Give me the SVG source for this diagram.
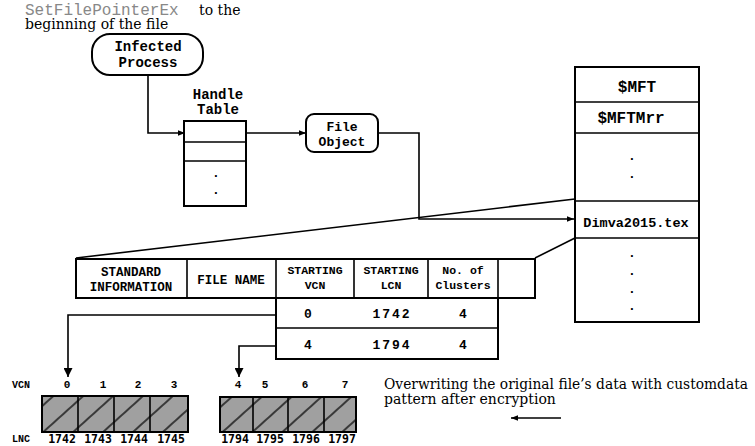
<svg xmlns="http://www.w3.org/2000/svg" width="755" height="446" viewBox="0 0 755 446">
<style>
.m{font-family:"Liberation Mono","Courier New",monospace;font-weight:bold;fill:#000;text-anchor:middle}
.s{font-family:"DejaVu Serif","Liberation Serif",serif;fill:#000}
.b{fill:#fff;stroke:#000;stroke-width:2}
.l{fill:none;stroke:#000;stroke-width:1.6}
.c{fill:url(#hatch);stroke:#000;stroke-width:2}
.n{font-family:"DejaVu Sans Mono",monospace;font-size:11.5px;font-weight:bold;fill:#000;text-anchor:middle}
</style>
<defs>
<marker id="ah" viewBox="0 0 10 10" refX="10" refY="5" markerWidth="7" markerHeight="7" markerUnits="userSpaceOnUse" orient="auto">
<path d="M0,1 L10,5 L0,9 Z" fill="#000"/>
</marker>
<marker id="ahb" viewBox="0 0 10 10" refX="10" refY="5" markerWidth="10" markerHeight="9" markerUnits="userSpaceOnUse" orient="auto">
<path d="M0,0 L10,5 L0,10 Z" fill="#000"/>
</marker>
<pattern id="hatch" patternUnits="userSpaceOnUse" width="12" height="20" patternTransform="rotate(-42)">
<rect width="12" height="20" fill="#a0a0a0"/>
<line x1="0" y1="10" x2="12" y2="10" stroke="#000" stroke-width="1.3"/>
</pattern>
</defs>

<g id="caption-top">
<text x="25" y="15" font-family="Liberation Mono,monospace" font-size="16" fill="#888">SetFilePointerEx</text>
<text x="199" y="15" class="s" font-size="14">to the</text>
<text x="25" y="29" class="s" font-size="14">beginning of the file</text>
</g>

<g id="infected-process">
<rect x="92" y="34" width="111" height="41" rx="18" class="b"/>
<text x="148" y="51" class="m" font-size="14">Infected</text>
<text x="148" y="67" class="m" font-size="14">Process</text>
</g>

<g id="handle-table">
<text x="218" y="99" class="m" font-size="14">Handle</text>
<text x="218" y="114" class="m" font-size="14">Table</text>
<rect x="184" y="121" width="62" height="85" class="b"/>
<line x1="184" y1="142" x2="246" y2="142" class="l" stroke-width="2"/>
<line x1="184" y1="161" x2="246" y2="161" class="l" stroke-width="2"/>
<text x="216" y="177" class="m" font-size="13">.</text>
<text x="216" y="194" class="m" font-size="13">.</text>
</g>

<g id="file-object">
<rect x="306" y="114" width="72" height="38" rx="8" class="b"/>
<text x="342" y="131" class="m" font-size="13">File</text>
<text x="342" y="146" class="m" font-size="13">Object</text>
</g>

<g id="mft">
<rect x="575" y="67" width="124" height="255" class="b"/>
<line x1="575" y1="102" x2="699" y2="102" class="l" stroke-width="2"/>
<line x1="575" y1="133" x2="699" y2="133" class="l" stroke-width="2"/>
<line x1="575" y1="201" x2="699" y2="201" class="l" stroke-width="2"/>
<line x1="575" y1="238" x2="699" y2="238" class="l" stroke-width="2"/>
<text x="637" y="92" class="m" font-size="16">$MFT</text>
<text x="631" y="123" class="m" font-size="16">$MFTMrr</text>
<text x="632" y="160" class="m" font-size="13">.</text>
<text x="632" y="178" class="m" font-size="13">.</text>
<text x="636" y="227" class="m" font-size="13.5">Dimva2015.tex</text>
<text x="632" y="257" class="m" font-size="13">.</text>
<text x="632" y="275" class="m" font-size="13">.</text>
<text x="632" y="293" class="m" font-size="13">.</text>
<text x="632" y="310" class="m" font-size="13">.</text>
</g>

<g id="attribute-table">
<rect x="76" y="259" width="459" height="39" class="b"/>
<line x1="187" y1="259" x2="187" y2="298" class="l" stroke-width="2"/>
<line x1="276" y1="259" x2="276" y2="298" class="l" stroke-width="2"/>
<line x1="354" y1="259" x2="354" y2="298" class="l" stroke-width="2"/>
<line x1="428" y1="259" x2="428" y2="298" class="l" stroke-width="2"/>
<line x1="498" y1="259" x2="498" y2="298" class="l" stroke-width="2"/>
<text x="131" y="276" class="m" font-size="12.5">STANDARD</text>
<text x="131" y="291" class="m" font-size="12.5">INFORMATION</text>
<text x="231" y="284" class="m" font-size="12.5">FILE NAME</text>
<text x="315" y="274" class="m" font-size="11.5">STARTING</text>
<text x="315" y="289" class="m" font-size="11.5">VCN</text>
<text x="391" y="274" class="m" font-size="11.5">STARTING</text>
<text x="391" y="289" class="m" font-size="11.5">LCN</text>
<text x="463" y="274" class="m" font-size="11.5" font-weight="normal">No. of</text>
<text x="463" y="289" class="m" font-size="11.5" font-weight="normal">Clusters</text>
</g>

<g id="runs-table">
<rect x="276" y="298" width="222" height="61" class="b"/>
<line x1="276" y1="328" x2="498" y2="328" class="l" stroke-width="2"/>
<text x="308" y="318" class="m" font-size="13">0</text>
<text x="392" y="318" class="m" font-size="13" letter-spacing="2">1742</text>
<text x="463" y="318" class="m" font-size="13">4</text>
<text x="308" y="349" class="m" font-size="13">4</text>
<text x="392" y="349" class="m" font-size="13" letter-spacing="2">1794</text>
<text x="463" y="349" class="m" font-size="13">4</text>
</g>

<g id="clusters-1">
<rect x="42" y="396" width="146" height="36" class="c"/>
<line x1="78" y1="396" x2="78" y2="432" class="l" stroke-width="2"/>
<line x1="114" y1="396" x2="114" y2="432" class="l" stroke-width="2"/>
<line x1="150" y1="396" x2="150" y2="432" class="l" stroke-width="2"/>
</g>
<g id="clusters-2">
<rect x="220" y="397" width="136" height="35" class="c"/>
<line x1="253" y1="397" x2="253" y2="432" class="l" stroke-width="2"/>
<line x1="288" y1="397" x2="288" y2="432" class="l" stroke-width="2"/>
<line x1="324" y1="397" x2="324" y2="432" class="l" stroke-width="2"/>
</g>

<g id="cluster-labels">
<text x="21" y="388" class="m" font-size="10">VCN</text>
<text x="67" y="388" class="m" font-size="11">0</text>
<text x="103" y="388" class="m" font-size="11">1</text>
<text x="138" y="388" class="m" font-size="11">2</text>
<text x="174" y="388" class="m" font-size="11">3</text>
<text x="238" y="388" class="m" font-size="11">4</text>
<text x="265" y="388" class="m" font-size="11">5</text>
<text x="305" y="388" class="m" font-size="11">6</text>
<text x="345" y="388" class="m" font-size="11">7</text>
<text x="21" y="442" class="m" font-size="10">LNC</text>
<text x="62" y="443" class="n">1742</text>
<text x="98" y="443" class="n">1743</text>
<text x="134" y="443" class="n">1744</text>
<text x="171" y="443" class="n">1745</text>
<text x="235" y="443" class="n">1794</text>
<text x="270" y="443" class="n">1795</text>
<text x="306" y="443" class="n">1796</text>
<text x="342" y="443" class="n">1797</text>
</g>

<g id="note">
<text x="384" y="389" class="s" font-size="14" textLength="364" lengthAdjust="spacingAndGlyphs">Overwriting the original file’s data with customdata</text>
<text x="384" y="404" class="s" font-size="14">pattern after encryption</text>
</g>

<g id="connectors">
<polyline points="148,75 148,133 185,133" class="l" marker-end="url(#ah)"/>
<line x1="246" y1="133" x2="306" y2="133" class="l" marker-end="url(#ah)"/>
<polyline points="378,133 419,133 419,219 574,219" class="l" marker-end="url(#ah)"/>
<line x1="575" y1="199" x2="76" y2="258" class="l"/>
<line x1="575" y1="238" x2="535" y2="258" class="l"/>
<polyline points="276,315 68,315 68,377" class="l" stroke-width="2" marker-end="url(#ahb)"/>
<polyline points="276,346 239,346 239,377" class="l" stroke-width="2" marker-end="url(#ahb)"/>
<line x1="561" y1="418" x2="511" y2="418" class="l" stroke-width="2" marker-end="url(#ah)"/>
</g>
</svg>
